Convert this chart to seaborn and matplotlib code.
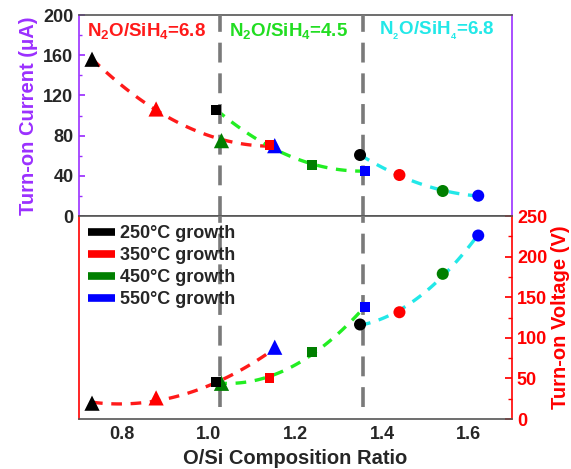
import numpy as np
import pandas as pd
import matplotlib
matplotlib.use("Agg")
import matplotlib.pyplot as plt
import seaborn as sns
from matplotlib.lines import Line2D
from matplotlib.ticker import MultipleLocator

sns.set_theme(style="white")
plt.rcParams["font.family"] = ["Liberation Sans", "DejaVu Sans"]
plt.rcParams["font.weight"] = "bold"
plt.rcParams["mathtext.fontset"] = "custom"
plt.rcParams["mathtext.rm"] = "Liberation Sans:bold"
plt.rcParams["mathtext.it"] = "Liberation Sans:bold"
plt.rcParams["mathtext.bf"] = "Liberation Sans:bold"
plt.rcParams["mathtext.default"] = "regular"

# growth temperatures and their marker colours
temps = ["250", "350", "450", "550"]
temp_colors = ["#000000", "#ff0000", "#007f00", "#0000ff"]

# N2O/SiH4 = 6.8 series (triangles)
tri_x = [0.730, 0.878, 1.029, 1.152]
tri_current = [156, 106.5, 75, 70]
tri_voltage = [19.5, 26, 44, 88.4]

# N2O/SiH4 = 4.5 series (squares)
sq_x = [1.017, 1.140, 1.239, 1.360]
sq_current = [105.5, 70.3, 50.7, 45]
sq_voltage = [45.3, 50, 82.3, 137.7]

# N2O/SiH4 = 6.8 series, second set (circles)
circ_x = [1.349, 1.440, 1.540, 1.622]
circ_current = [60.7, 40.8, 24.9, 20.2]
circ_voltage = [116.4, 131.5, 178.8, 226]

boundaries = [1.025, 1.355]

groups = [
    ("tri", tri_x, tri_current, tri_voltage, "^", 120, "#ff1a1a"),
    ("sq", sq_x, sq_current, sq_voltage, "s", 50, "#22ee22"),
    ("circ", circ_x, circ_current, circ_voltage, "o", 75, "#22e8e8"),
]

fig = plt.figure(figsize=(5.71, 4.69), dpi=100)
ax_top = fig.add_axes([0.1384, 0.5394, 0.7583, 0.4286])
ax_bot = fig.add_axes([0.1384, 0.1066, 0.7583, 0.4328])

purple = "#9b30ff"
red = "#ff0000"
spine_gray = "#555555"
tick_fs = 13
label_fs = 14.5

for name, xs, cur, vol, mk, s, lc in groups:
    df = pd.DataFrame({"x": xs, "current": cur, "voltage": vol, "temp": temps})
    for ax, col in ((ax_top, "current"), (ax_bot, "voltage")):
        sns.regplot(data=df, x="x", y=col, order=2, ci=None, scatter=False,
                    truncate=True, ax=ax,
                    line_kws=dict(color=lc, lw=2.4, ls=(0, (3.2, 2.6)), zorder=2))
        sns.scatterplot(data=df, x="x", y=col, hue="temp", palette=temp_colors,
                        marker=mk, s=s, edgecolor="none", legend=False,
                        ax=ax, zorder=4)

for xb in boundaries:
    ax_top.axvline(xb, color="#7a7a7a", lw=2.6, ls=(0, (5.5, 3)), zorder=3)
    ax_bot.axvline(xb, ymin=0.06, color="#7a7a7a", lw=2.6, ls=(0, (5.5, 3)), zorder=3)

# top panel: turn-on current
ax_top.set_xlim(0.7, 1.7)
ax_top.set_ylim(0, 200)
ax_top.yaxis.set_major_locator(MultipleLocator(40))
ax_top.yaxis.set_minor_locator(MultipleLocator(20))
ax_top.xaxis.set_major_locator(MultipleLocator(0.2))
ax_top.xaxis.set_minor_locator(MultipleLocator(0.1))
ax_top.tick_params(axis="x", which="both", direction="in", labelbottom=False,
                   color=spine_gray, width=1)
ax_top.tick_params(axis="x", which="major", length=5)
ax_top.tick_params(axis="x", which="minor", length=3)
ax_top.tick_params(axis="y", which="both", direction="in", color=purple,
                   labelsize=tick_fs, left=True, pad=4)
ax_top.tick_params(axis="y", which="major", length=4)
ax_top.tick_params(axis="y", which="minor", length=2.5)
ax_top.set_xlabel("")
ax_top.set_ylabel("Turn-on Current (\u03bcA)", color=purple, fontsize=label_fs,
                  fontweight="bold", labelpad=4)
for lbl in ax_top.get_yticklabels():
    lbl.set_fontweight("bold")
ax_top.spines["left"].set_color(purple)
ax_top.spines["right"].set_color(purple)
ax_top.spines["top"].set_color(spine_gray)
ax_top.spines["bottom"].set_color(spine_gray)
for sp in ax_top.spines.values():
    sp.set_linewidth(1.2)

ax_top.text(0.718, 184, r"N$_2$O/SiH$_4$=6.8", color="#ff1a1a", fontsize=13.5,
            fontweight="bold", va="center", ha="left")
ax_top.text(1.046, 184, r"N$_2$O/SiH$_4$=4.5", color="#22dd22", fontsize=13.5,
            fontweight="bold", va="center", ha="left")
ax_top.text(1.393, 184, r"N$_{_2}$O/SiH$_{_4}$=6.8", color="#22e8e8", fontsize=13.5,
            fontweight="bold", va="center", ha="left")

# bottom panel: turn-on voltage
ax_bot.set_xlim(0.7, 1.7)
ax_bot.set_ylim(0, 250)
ax_bot.xaxis.set_major_locator(MultipleLocator(0.2))
ax_bot.xaxis.set_minor_locator(MultipleLocator(0.1))
ax_bot.yaxis.set_major_locator(MultipleLocator(50))
ax_bot.yaxis.set_minor_locator(MultipleLocator(25))
ax_bot.yaxis.tick_right()
ax_bot.yaxis.set_label_position("right")
ax_bot.tick_params(axis="x", which="both", direction="in", color=spine_gray,
                   labelsize=tick_fs, width=1, pad=5)
ax_bot.tick_params(axis="x", which="major", length=5)
ax_bot.tick_params(axis="x", which="minor", length=3)
ax_bot.tick_params(axis="y", which="both", direction="in", color=red,
                   labelcolor=red, labelsize=tick_fs, right=True, left=False)
ax_bot.tick_params(axis="y", which="major", length=5)
ax_bot.tick_params(axis="y", which="minor", length=3)
for lbl in ax_bot.get_xticklabels() + ax_bot.get_yticklabels():
    lbl.set_fontweight("bold")
ax_bot.set_xlabel("O/Si Composition Ratio", fontsize=label_fs, fontweight="bold",
                  labelpad=4)
ax_bot.set_ylabel("Turn-on Voltage (V)", color=red, fontsize=label_fs,
                  fontweight="bold", labelpad=3)
ax_bot.spines["left"].set_color(red)
ax_bot.spines["right"].set_color(red)
ax_bot.spines["top"].set_color(spine_gray)
ax_bot.spines["bottom"].set_color(spine_gray)
for sp in ax_bot.spines.values():
    sp.set_linewidth(1.2)

handles = [Line2D([0], [0], color=c, lw=5.5, solid_capstyle="butt") for c in temp_colors]
labels = [t + "\u00b0C growth" for t in temps]
leg = ax_bot.legend(handles, labels, loc="upper left", frameon=False,
                    bbox_to_anchor=(0.0, 1.0), borderaxespad=0.1,
                    handlelength=1.5, handletextpad=0.25, labelspacing=0.28,
                    prop=dict(size=13, weight="bold"))

fig.savefig("out.png", dpi=100)
